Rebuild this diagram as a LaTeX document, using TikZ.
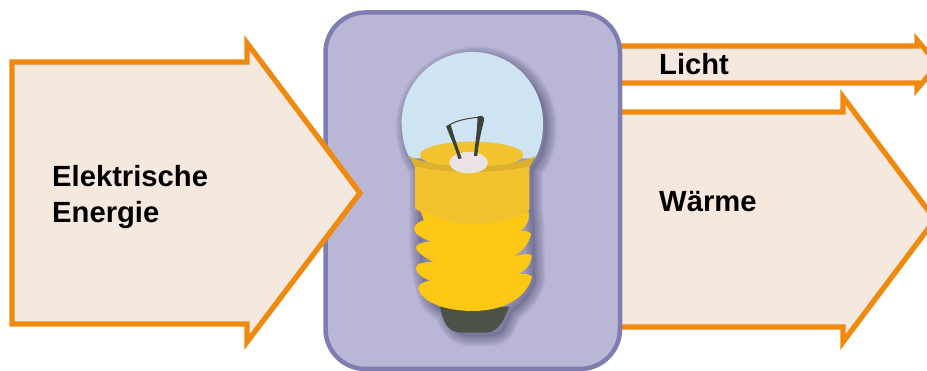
\documentclass[tikz,border=0pt]{standalone}
\usepackage{fontspec}
\setmainfont{Liberation Sans}
\definecolor{flowfill}{HTML}{F5E9DF}
\definecolor{flowline}{HTML}{EF8A10}
\definecolor{boxfill}{HTML}{BAB6D6}
\definecolor{boxline}{HTML}{7E7EB0}
\definecolor{glass}{HTML}{CFE4F2}
\definecolor{collar}{HTML}{F2C32E}
\definecolor{rimdark}{HTML}{DDB02E}
\definecolor{thread}{HTML}{FDC814}
\definecolor{basecol}{HTML}{4B5247}
\definecolor{pad}{HTML}{EBE3E3}
\definecolor{shadowcol}{HTML}{54547A}
\tikzset{
  flowarrow/.style={fill=flowfill,draw=flowline,line width=5.3pt,miter limit=10},
  flowlabel/.style={font=\fontsize{29.2}{36}\selectfont\bfseries,anchor=base west,inner sep=0pt,text=black},
  lampbox/.style={fill=boxfill,draw=boxline,line width=4.5pt,rounded corners=40pt},
}
\newcommand{\lampsil}{(65,278) arc[start angle=180,end angle=360,radius=212] .. controls (490,320) and (480,360) .. (465,385) -- (448,410) -- (448,540) -- (452,560) -- (455,740) .. controls (440,800) and (385,835) .. (385,835) -- (365,880) .. controls (350,908) and (330,908) .. (280,908) .. controls (225,908) and (205,900) .. (180,835) .. controls (140,820) and (110,790) .. (105,600) -- (105,410) -- (90,385) .. controls (75,360) and (65,320) .. (65,278) -- cycle}
\begin{document}
\begin{tikzpicture}[x=1pt,y=-1pt]
\useasboundingbox (0,0) rectangle (927,371);
\clip (0,0) rectangle (927,371);
\fill[white] (0,0) rectangle (927,371);
% right arrows
\draw[flowarrow] (610,46) -- (917,46) -- (917,40) -- (938,64.5) -- (917,89) -- (917,83) -- (610,83) -- cycle;
\draw[flowarrow] (610,112) -- (843,112) -- (843,97) -- (935,219.5) -- (843,342) -- (843,327) -- (610,327) -- cycle;
% lamp box
\draw[lampbox] (325.5,12.5) rectangle (620,369);
% lamp
\begin{scope}[shift={(380,30)},x=0.3333pt,y=-0.3333pt]
  \begin{scope}[shift={(12,12)}]
    \foreach \w in {60,55,50,45,40,35,30,25,20,15,10,5}
      \draw[shadowcol,opacity=0.055,line width=\w*0.3333pt,line join=round] \lampsil;
    \fill[shadowcol,opacity=0.3] \lampsil;
  \end{scope}
  % glass
  \fill[glass] (65,278) arc[start angle=180,end angle=360,radius=212] .. controls (490,320) and (480,360) .. (465,385) -- (90,385) .. controls (75,360) and (65,320) .. (65,278) -- cycle;
  % inner disc
  \fill[collar] (275,375) ellipse[x radius=155,y radius=40];
  % collar
  \fill[collar] (88,378) .. controls (150,420) and (400,420) .. (466,378) -- (448,412) -- (448,540) .. controls (400,565) and (340,582) .. (280,582) .. controls (210,582) and (150,565) .. (105,535) -- (105,410) -- cycle;
  \fill[rimdark] (88,378) .. controls (150,420) and (400,420) .. (466,378) -- (450,408) .. controls (350,432) and (200,432) .. (103,408) -- cycle;
  % base
  \fill[basecol] (180,830) .. controls (190,880) and (205,908) .. (245,908) -- (320,908) .. controls (360,905) and (375,860) .. (388,830) -- cycle;
  % thread
  \fill[thread] (120,540) .. controls (170,570) and (230,582) .. (280,582) .. controls (340,582) and (400,565) .. (445,542)
    .. controls (452,565) and (440,590) .. (422,602) .. controls (435,603) and (450,605) .. (453,612)
    .. controls (448,640) and (425,668) .. (398,680) .. controls (420,675) and (445,668) .. (455,675)
    .. controls (455,700) and (440,720) .. (415,732) .. controls (430,732) and (448,730) .. (456,740)
    .. controls (445,790) and (390,842) .. (280,843) .. controls (190,843) and (125,815) .. (114,775)
    .. controls (116,762) and (130,755) .. (152,752) .. controls (125,745) and (105,725) .. (108,712)
    .. controls (112,698) and (135,695) .. (165,697) .. controls (135,685) and (108,665) .. (108,652)
    .. controls (110,640) and (130,636) .. (155,635) .. controls (125,625) and (100,610) .. (103,595)
    .. controls (105,580) and (120,575) .. (132,570) -- cycle;
  % pad
  \fill[pad] (266,398) ellipse[x radius=58,y radius=32];
  % filament
  \fill[basecol!80!black] (198,288) -- (212,284) .. controls (222,320) and (235,355) .. (245,385) -- (235,387) .. controls (225,350) and (210,320) .. (198,288) -- cycle;
  \fill[basecol!80!black] (292,260) .. controls (305,255) and (314,258) .. (312,272) .. controls (305,300) and (295,340) .. (292,378) -- (282,378) .. controls (285,340) and (293,300) .. (292,260) -- cycle;
  \draw[basecol!80!black,line width=1pt] (205,287) .. controls (230,270) and (265,265) .. (295,262);
\end{scope}
% input arrow
\draw[flowarrow] (12,62) -- (247,62) -- (247,43) -- (360,193) -- (247,342) -- (247,324) -- (12,324) -- cycle;
% labels
\node[flowlabel] (input) at (52,187) {Elektrische};
\node[flowlabel] (input2) at (52,223) {Energie};
\node[flowlabel] (light) at (659,75) {Licht};
\node[flowlabel] (heat) at (659,212) {Wärme};
\end{tikzpicture}
\end{document}
